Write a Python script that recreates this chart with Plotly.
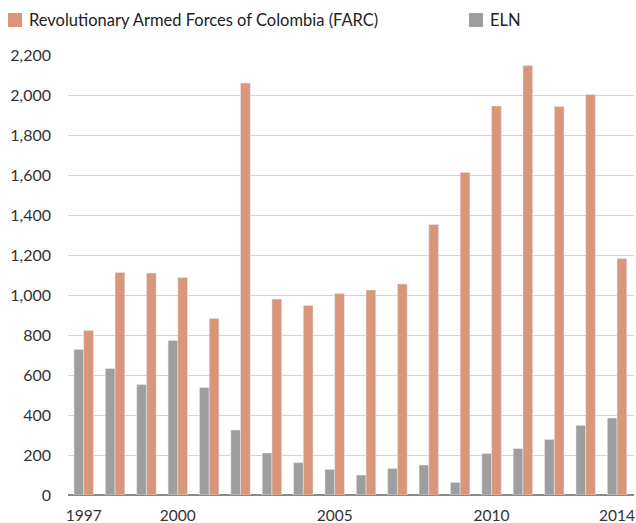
import plotly.graph_objects as go

years = list(range(1997, 2015))
farc = [822, 1112, 1110, 1087, 883, 2060, 980, 948, 1007, 1025, 1055, 1353, 1613, 1945, 2147, 1942, 2002, 1183]
eln = [728, 633, 552, 773, 538, 325, 210, 162, 128, 100, 133, 150, 63, 207, 232, 278, 348, 385]
x_ticks = [1997, 2000, 2005, 2010, 2014]
y_ticks = list(range(0, 2201, 200))

FARC_NAME = "Revolutionary Armed Forces of Colombia (FARC)"
ELN_NAME = "ELN"
FARC_COLOR = "#d9967a"
ELN_COLOR = "#9e9e9e"

W, H = 636, 523
ML, MR, MT, MB = 68, 2, 55, 28
PW, PH = W - ML - MR, H - MT - MB

def px_x(p):
    return (p - ML) / PW

def px_y(p):
    return (H - MB - p) / PH

FONT = "Lato"
fig = go.Figure()
fig.add_trace(go.Bar(x=years, y=eln, name=ELN_NAME, marker_color=ELN_COLOR, showlegend=False))
fig.add_trace(go.Bar(x=years, y=farc, name=FARC_NAME, marker_color=FARC_COLOR, showlegend=False))

# legend built from swatches + text
legend_items = [(FARC_NAME, FARC_COLOR, 8), (ELN_NAME, ELN_COLOR, 469)]
for name, color, left in legend_items:
    fig.add_shape(type="rect", xref="paper", yref="paper",
                  x0=px_x(left), x1=px_x(left + 14), y0=px_y(13), y1=px_y(27),
                  fillcolor=color, line_width=0)
    fig.add_annotation(text=name, xref="paper", yref="paper",
                       x=px_x(left + 19), y=px_y(20), xanchor="left", yanchor="middle",
                       showarrow=False, font=dict(size=16.5, color="#222222", family=FONT))

fig.update_layout(
    width=W, height=H,
    margin=dict(l=ML, r=MR, t=MT, b=MB, autoexpand=False),
    paper_bgcolor="white", plot_bgcolor="white",
    barmode="group", bargap=0.38, bargroupgap=0,
    font=dict(family=FONT, size=16, color="#333333"),
    showlegend=False,
    xaxis=dict(tickmode="array", tickvals=x_ticks, ticktext=[str(v) for v in x_ticks],
               range=[1996.5, 2014.54], showgrid=False, ticks="", zeroline=False,
               showline=False, ticklabelstandoff=9, ticklabeloverflow="allow",
               tickfont=dict(size=15.5)),
    yaxis=dict(tickmode="array", tickvals=y_ticks,
               ticktext=[f"{v:,}" for v in y_ticks],
               range=[0, 2200], showgrid=True, gridcolor="#d4d4d4", gridwidth=1,
               zeroline=True, zerolinecolor="#8a8a8a", zerolinewidth=1.5,
               ticks="", ticklabelstandoff=16),
)
fig.write_html("out.html")
